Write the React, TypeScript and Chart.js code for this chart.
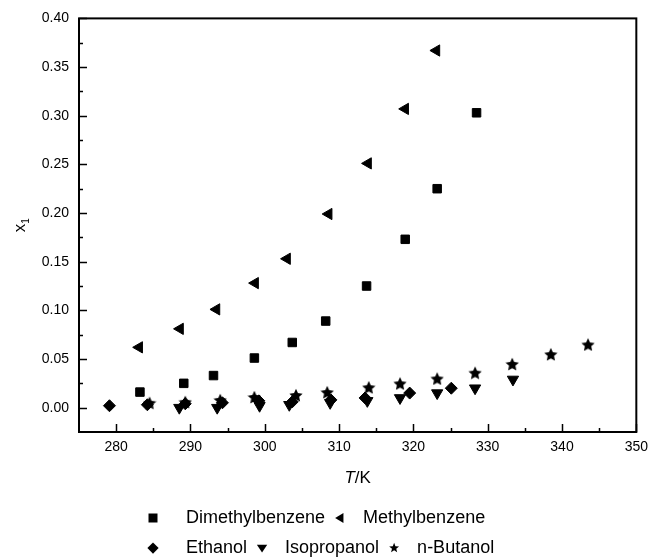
import React, { useEffect, useRef } from 'react';
import { Chart, registerables } from 'chart.js';

Chart.register(...registerables);

// ---- data ----
const xTickValues = [280, 290, 300, 310, 320, 330, 340, 350];
const yTickValues = [0, 0.05, 0.1, 0.15, 0.2, 0.25, 0.3, 0.35, 0.4];

const dimethylT = [283.2, 289.1, 293.1, 298.6, 303.7, 308.2, 313.7, 318.9, 323.2, 328.5];
const dimethylX = [0.016, 0.025, 0.033, 0.051, 0.067, 0.089, 0.125, 0.173, 0.225, 0.303];

const methylT = [283.1, 288.6, 293.5, 298.7, 303.0, 308.6, 313.9, 318.9, 323.1];
const methylX = [0.062, 0.081, 0.101, 0.128, 0.153, 0.199, 0.251, 0.307, 0.367];

const ethanolT = [279.1, 284.2, 289.3, 294.3, 299.2, 303.7, 308.9, 313.5, 319.5, 325.1];
const ethanolX = [0.002, 0.003, 0.004, 0.005, 0.007, 0.006, 0.008, 0.010, 0.015, 0.020];

const isoT = [288.5, 293.6, 299.3, 303.3, 308.8, 313.8, 318.2, 323.2, 328.3, 333.4];
const isoX = [0.000, 0.000, 0.002, 0.003, 0.005, 0.007, 0.010, 0.015, 0.020, 0.029];

const butT = [284.5, 289.3, 294.0, 298.6, 304.2, 308.4, 314.0, 318.2, 323.2, 328.3, 333.3, 338.5, 343.5];
const butX = [0.005, 0.006, 0.008, 0.011, 0.013, 0.016, 0.021, 0.025, 0.030, 0.036, 0.045, 0.055, 0.065];

const seriesNames = ['Dimethylbenzene', 'Methylbenzene', 'Ethanol', 'Isopropanol', 'n-Butanol'];

const FONT = '"Liberation Sans", Arial, sans-serif';

function pts(t: number[], v: number[]) {
  return t.map((tt, i) => ({ x: tt, y: v[i] }));
}

function starPath(ctx: CanvasRenderingContext2D, cx: number, cy: number, ro: number, ri: number) {
  ctx.beginPath();
  for (let i = 0; i < 10; i++) {
    const r = i % 2 === 0 ? ro : ri;
    const a = -Math.PI / 2 + (i * Math.PI) / 5;
    const px = cx + r * Math.cos(a);
    const py = cy + r * Math.sin(a);
    if (i === 0) ctx.moveTo(px, py);
    else ctx.lineTo(px, py);
  }
  ctx.closePath();
}

function makeStar(size: number) {
  const c = document.createElement('canvas');
  c.width = size;
  c.height = size;
  const g = c.getContext('2d')!;
  g.fillStyle = '#000';
  starPath(g, size / 2, size / 2 + 0.8, size / 2, size / 4.2);
  g.fill();
  return c;
}

function drawMarker(ctx: CanvasRenderingContext2D, type: string, x: number, y: number, r: number) {
  ctx.beginPath();
  if (type === 'square') {
    ctx.rect(x - r, y - r, 2 * r, 2 * r);
  } else if (type === 'left') {
    ctx.moveTo(x - r * 1.1, y);
    ctx.lineTo(x + r * 0.75, y - r * 1.1);
    ctx.lineTo(x + r * 0.75, y + r * 1.1);
    ctx.closePath();
  } else if (type === 'diamond') {
    ctx.moveTo(x, y - r * 1.25);
    ctx.lineTo(x + r * 1.25, y);
    ctx.lineTo(x, y + r * 1.25);
    ctx.lineTo(x - r * 1.25, y);
    ctx.closePath();
  } else if (type === 'down') {
    ctx.moveTo(x - r * 1.15, y - r * 0.75);
    ctx.lineTo(x + r * 1.15, y - r * 0.75);
    ctx.lineTo(x, y + r * 1.0);
    ctx.closePath();
  } else if (type === 'star') {
    starPath(ctx, x, y, r * 1.15, r * 0.5);
  }
  ctx.fill();
}

const framePlugin = {
  id: 'frameAndText',
  afterDatasetsDraw(chart: any) {
    const { ctx, chartArea: a, scales } = chart;
    const x = scales.x;
    const y = scales.y;
    ctx.save();
    ctx.strokeStyle = '#000';
    ctx.lineWidth = 1.5;
    ctx.beginPath();
    for (const v of xTickValues) {
      const px = Math.round(x.getPixelForValue(v)) + 0.5;
      ctx.moveTo(px, a.bottom);
      ctx.lineTo(px, a.bottom - 8);
      const m = v - 5;
      if (m > x.min) {
        const pm = Math.round(x.getPixelForValue(m)) + 0.5;
        ctx.moveTo(pm, a.bottom);
        ctx.lineTo(pm, a.bottom - 4);
      }
    }
    for (const v of yTickValues) {
      const py = Math.round(y.getPixelForValue(v)) + 0.5;
      ctx.moveTo(a.left, py);
      ctx.lineTo(a.left + 8, py);
      const m = v + 0.025;
      if (m < y.max) {
        const pm = Math.round(y.getPixelForValue(m)) + 0.5;
        ctx.moveTo(a.left, pm);
        ctx.lineTo(a.left + 4, pm);
      }
    }
    ctx.stroke();
    ctx.lineWidth = 2;
    ctx.strokeRect(a.left, a.top, a.right - a.left, a.bottom - a.top);

    // axis titles
    ctx.fillStyle = '#000';
    ctx.textBaseline = 'middle';
    const cx = (a.left + a.right) / 2;
    ctx.font = `italic 17px ${FONT}`;
    const tW = ctx.measureText('T').width;
    ctx.font = `17px ${FONT}`;
    const kW = ctx.measureText('/K').width;
    const startX = cx - (tW + kW) / 2;
    ctx.textAlign = 'left';
    ctx.font = `italic 17px ${FONT}`;
    ctx.fillText('T', startX, 478);
    ctx.font = `17px ${FONT}`;
    ctx.fillText('/K', startX + tW, 478);

    // y title x1
    ctx.save();
    ctx.translate(20, (a.top + a.bottom) / 2);
    ctx.rotate(-Math.PI / 2);
    ctx.font = `17px ${FONT}`;
    const xw = ctx.measureText('x').width;
    ctx.font = `10px ${FONT}`;
    const sw = ctx.measureText('1').width;
    const sx = -(xw + sw) / 2;
    ctx.font = `17px ${FONT}`;
    ctx.textAlign = 'left';
    ctx.fillText('x', sx, 0);
    ctx.font = `10px ${FONT}`;
    ctx.fillText('1', sx + xw, 6);
    ctx.restore();

    // legend
    ctx.font = `18px ${FONT}`;
    ctx.textAlign = 'left';
    const rows: [string, string][][] = [
      [['square', seriesNames[0]], ['left', seriesNames[1]]],
      [['diamond', seriesNames[2]], ['down', seriesNames[3]], ['star', seriesNames[4]]],
    ];
    const rowY = [518, 548];
    rows.forEach((row, ri) => {
      let mx = 153;
      row.forEach(([type, label], k) => {
        drawMarker(ctx, type, mx, rowY[ri], 4.5);
        const tx = mx + (k === 0 ? 33 : 23);
        ctx.fillText(label, tx, rowY[ri]);
        mx = tx + ctx.measureText(label).width + 15;
      });
    });
    ctx.restore();
  },
};

export default function App() {
  const ref = useRef<HTMLCanvasElement | null>(null);
  useEffect(() => {
    document.body.style.margin = '0';
    const canvas = ref.current!;
    const star = makeStar(14);
    const common = {
      backgroundColor: '#000',
      borderColor: '#000',
      borderWidth: 1,
      showLine: false,
    };
    const chart = new Chart(canvas, {
      type: 'scatter',
      data: {
        datasets: [
          { ...common, label: seriesNames[0], data: pts(dimethylT, dimethylX), pointStyle: 'rect', pointRadius: 6, pointHoverRadius: 6 },
          { ...common, label: seriesNames[1], data: pts(methylT, methylX), pointStyle: 'triangle', rotation: -90, pointRadius: 6.5, pointHoverRadius: 6.5 },
          { ...common, label: seriesNames[2], data: pts(ethanolT, ethanolX), pointStyle: 'rectRot', pointRadius: 6, pointHoverRadius: 6 },
          { ...common, label: seriesNames[3], data: pts(isoT, isoX), pointStyle: 'triangle', rotation: 180, pointRadius: 6.5, pointHoverRadius: 6.5 },
          { ...common, label: seriesNames[4], data: pts(butT, butX), pointStyle: star as any, pointRadius: 7, pointHoverRadius: 7 },
        ],
      },
      options: {
        animation: false,
        responsive: false,
        devicePixelRatio: 1,
        layout: { padding: { left: 0, right: 15, top: 17, bottom: 97 } },
        plugins: { legend: { display: false }, tooltip: { enabled: false } },
        scales: {
          x: {
            type: 'linear',
            min: 275,
            max: 350,
            afterBuildTicks: (s: any) => {
              s.ticks = xTickValues.map((v) => ({ value: v }));
            },
            afterFit: (s: any) => {
              s.height = 30;
            },
            ticks: {
              font: { size: 14, family: FONT },
              color: '#000',
              padding: 7,
              maxRotation: 0,
              autoSkip: false,
              callback: (v: any) => String(v),
            },
            grid: { display: false, drawTicks: false },
            border: { display: false },
          },
          y: {
            type: 'linear',
            min: -0.025,
            max: 0.4,
            afterBuildTicks: (s: any) => {
              s.ticks = yTickValues.map((v) => ({ value: v }));
            },
            afterFit: (s: any) => {
              s.width = 79;
            },
            ticks: {
              font: { size: 14, family: FONT },
              color: '#000',
              padding: 10,
              autoSkip: false,
              callback: (v: any) => Number(v).toFixed(2),
            },
            grid: { display: false, drawTicks: false },
            border: { display: false },
          },
        },
      },
      plugins: [framePlugin],
    } as any);
    return () => chart.destroy();
  }, []);
  return (
    <div style={{ width: 655, height: 559 }}>
      <canvas ref={ref} width={655} height={559} style={{ display: 'block' }} />
    </div>
  );
}
